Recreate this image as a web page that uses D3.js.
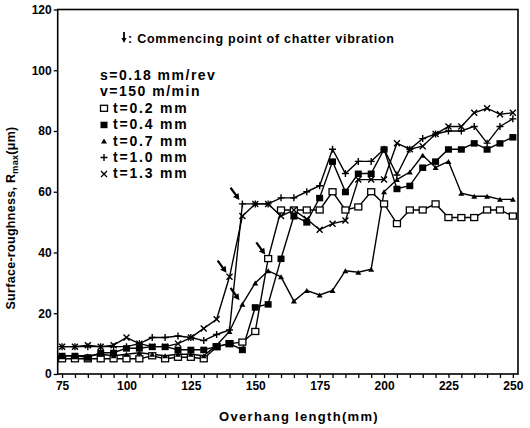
<!DOCTYPE html>
<html><head><meta charset="utf-8">
<script src="https://cdn.jsdelivr.net/npm/d3@7"></script>
<style>
body{margin:0;background:#fff;}
text{font-family:"Liberation Sans",Arial,sans-serif;fill:#000;}
</style></head>
<body><svg id="c" width="530" height="428"></svg>
<script>
// Overhang length (mm)
const overhang = [75,80,85,90,95,100,105,110,115,120,125,130,135,140,145,150,155,160,165,170,175,180,185,190,195,200,205,210,215,220,225,230,235,240,245,250];
// Surface roughness Rmax (µm) per depth of cut
const t02 = [5,5,5,5,5,5,5,6,5,5.5,5.5,5,9,10,10.5,14,38,54,54,54,54,60,54,55,60,56,49.5,54,54,56,51.5,51.5,51.5,54,54,52];
const t04 = [6,6,5.5,7,7,8.5,8.5,9,9,8,8,8,9,10,8,22,23,38,52,50,58,70,60,66,66,74,61,62,68,70,74,74,76,74,76,78];
const t07 = [6,6,6,6.5,6,6.5,7,6.5,6,6.5,6.5,6,9.5,14,23,30,34,32,24,27.5,26,27.5,34,33.5,34.5,60,64,66.5,72,68,70,59.5,58.5,58.5,57.5,57.5];
const t10 = [9,9,9,9,9,9,10,12,12,12.5,12,11,13,14.5,56,56,56,58,58,60,62,74,66,70,70,74,65.5,74,77.5,79,80,80,81.5,76,81.5,84];
const t13 = [9,9,9.5,9,9.5,12,10,9,9,10,12,15,18,32,52,56,56,52,54,51,47.5,49.5,50.5,64,64,64,76,74,75,79,81.5,81.5,86,87.5,85.5,86];
const seriesNames = ["t=0.2 mm","t=0.4 mm","t=0.7 mm","t=1.0 mm","t=1.3 mm"];
const seriesMarkers = ["osquare","square","triangle","plus","cross"];
const seriesValues = [t02,t04,t07,t10,t13];
// Chatter onset points [series index, overhang]
const chatterSeries = [4,3,2,0];
const chatterX = [140,145,145,155];
const yTicks = [0,20,40,60,80,100,120];
const xTicks = [75,80,85,90,95,100,105,110,115,120,125,130,135,140,145,150,155,160,165,170,175,180,185,190,195,200,205,210,215,220,225,230,235,240,245,250];
const condLines = ["s=0.18 mm/rev","v=150 m/min"];

const svg = d3.select("#c");
const L=57.7,R=518,T=9.5,B=374;
const x = d3.scaleLinear().domain([73.3,252]).range([L,R]);
const y = d3.scaleLinear().domain([0,120]).range([B,T]);

// axes
const ya = svg.append("g").attr("transform",`translate(${L},0)`)
  .call(d3.axisLeft(y).tickValues(yTicks).tickSize(4).tickPadding(2));
ya.select(".domain").remove();
ya.selectAll("text").attr("font-size",12).attr("font-family","Liberation Sans").attr("font-weight","bold");
ya.selectAll("line").attr("stroke-width",1.3);

const xa = svg.append("g").attr("transform",`translate(0,${B})`)
  .call(d3.axisBottom(x).tickValues(xTicks).tickSize(4).tickPadding(3).tickFormat(d=>d%25===0?d:""));
xa.select(".domain").remove();
xa.selectAll("text").attr("font-size",12).attr("font-family","Liberation Sans").attr("font-weight","bold");
xa.selectAll("line").attr("stroke-width",1.3);

// frame
svg.append("rect").attr("x",L).attr("y",T).attr("width",R-L).attr("height",B-T)
  .attr("fill","none").attr("stroke","#000").attr("stroke-width",1.6);

// clip
svg.append("clipPath").attr("id","clp").append("rect").attr("x",L).attr("y",T).attr("width",R-L+1).attr("height",B-T);

const line = d3.line().x((d,i)=>x(overhang[i])).y(d=>y(d));
const g = svg.append("g").attr("clip-path","url(#clp)");
seriesValues.forEach((vals,si)=>{
  g.append("path").datum(vals).attr("d",line).attr("fill","none").attr("stroke","#000").attr("stroke-width",1.4);
});

function marker(sel,type,cx,cy){
  if(type==="osquare"){
    sel.append("rect").attr("x",cx-3.5).attr("y",cy-3).attr("width",7).attr("height",6).attr("fill","#fff").attr("stroke","#000").attr("stroke-width",1.3);
  } else if(type==="square"){
    sel.append("rect").attr("x",cx-3.5).attr("y",cy-3).attr("width",7).attr("height",6.5).attr("fill","#000");
  } else if(type==="triangle"){
    sel.append("path").attr("d",`M${cx-3},${cy+2.5}L${cx+3},${cy+2.5}L${cx},${cy-2.5}Z`).attr("fill","#000");
  } else if(type==="plus"){
    sel.append("path").attr("d",`M${cx-3.5},${cy}H${cx+3.5}M${cx},${cy-3.5}V${cy+3.5}`).attr("stroke","#000").attr("stroke-width",1.4);
  } else if(type==="cross"){
    sel.append("path").attr("d",`M${cx-3},${cy-3}L${cx+3},${cy+3}M${cx-3},${cy+3}L${cx+3},${cy-3}`).attr("stroke","#000").attr("stroke-width",1.4);
  }
}
seriesValues.forEach((vals,si)=>{
  vals.forEach((v,i)=>marker(g,seriesMarkers[si],x(overhang[i]),y(v)));
});

// chatter arrows
function arrow(sel,tx,ty,len){
  const dx=Math.cos(Math.PI*0.3), dy=Math.sin(Math.PI*0.3);
  const sx=tx-dx*len, sy=ty-dy*len;
  sel.append("line").attr("x1",sx).attr("y1",sy).attr("x2",tx-dx*4).attr("y2",ty-dy*4).attr("stroke","#000").attr("stroke-width",2.2);
  const a=Math.atan2(dy,dx);
  const p1=[tx-Math.cos(a-0.5)*7, ty-Math.sin(a-0.5)*7];
  const p2=[tx-Math.cos(a+0.5)*7, ty-Math.sin(a+0.5)*7];
  sel.append("path").attr("d",`M${tx},${ty}L${p1[0]},${p1[1]}L${p2[0]},${p2[1]}Z`).attr("fill","#000");
}
chatterSeries.forEach((si,k)=>{
  const i = overhang.indexOf(chatterX[k]);
  const v = seriesValues[si][i];
  arrow(svg, x(chatterX[k])-3, y(v)-4, 15);
});

// legend header
const hx=124, hy=41;
svg.append("path").attr("d",`M${hx},${hy-9}V${hy-1}`).attr("stroke","#000").attr("stroke-width",1.8);
svg.append("path").attr("d",`M${hx-2.5},${hy-3}L${hx+2.5},${hy-3}L${hx},${hy+2}Z`).attr("fill","#000");
svg.append("text").attr("x",hx+4).attr("y",hy+2).attr("font-size",12.5).attr("font-weight","bold").attr("letter-spacing",0.75)
  .text(": Commencing point of chatter vibration");

const lx=100, ly0=80, lstep=16.4;
condLines.forEach((t,i)=>{
  svg.append("text").attr("x",lx).attr("y",ly0+i*lstep).attr("font-size",14).attr("font-weight","bold").attr("letter-spacing",1.5).text(t);
});
seriesNames.forEach((t,i)=>{
  const yy = ly0+(i+2)*lstep;
  marker(svg,seriesMarkers[i],lx+4,yy-4.5);
  svg.append("text").attr("x",lx+13).attr("y",yy).attr("font-size",14).attr("font-weight","bold").attr("letter-spacing",1.8).text(t);
});

// axis titles
svg.append("text").attr("x",299).attr("y",421).attr("text-anchor","middle").attr("font-size",13).attr("font-weight","bold").attr("letter-spacing",1.3)
  .text("Overhang length(mm)");
const yt = svg.append("text").attr("transform","translate(15,218) rotate(-90)").attr("text-anchor","middle").attr("font-size",12.5).attr("font-weight","bold").attr("letter-spacing",0.3);
yt.append("tspan").text("Surface-roughness, R");
yt.append("tspan").attr("font-size",9).attr("dy",3).text("max");
yt.append("tspan").attr("dy",-3).text("(\u03bcm)");
</script></body></html>
